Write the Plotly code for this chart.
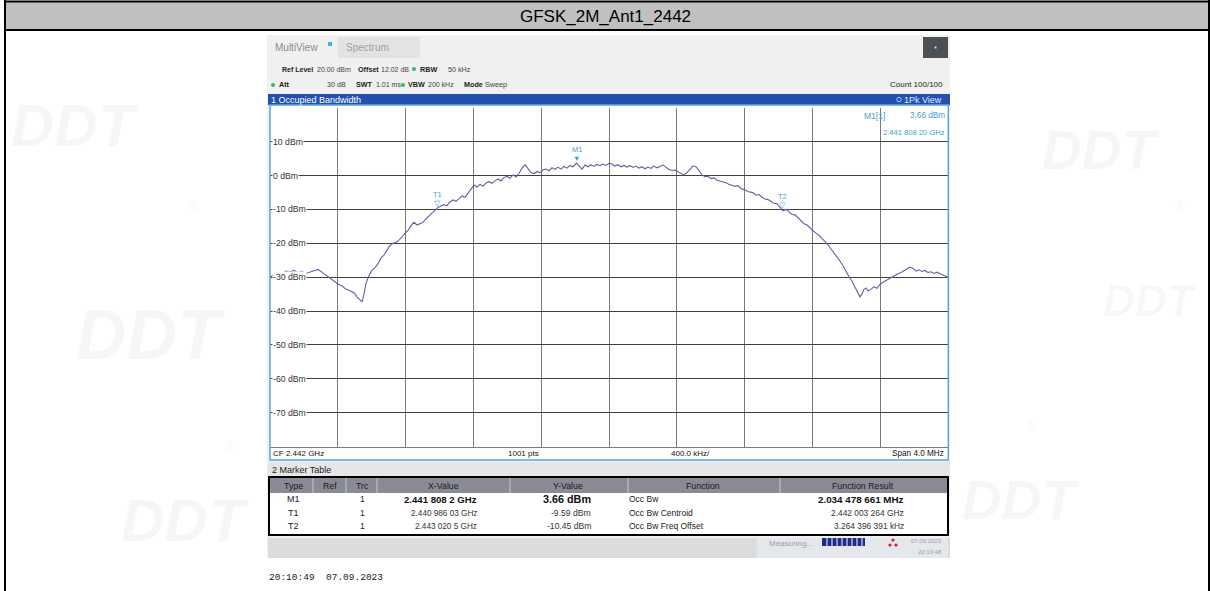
import plotly.graph_objects as go

W, H = 1210, 591

# ---------------- data ----------------
title_text = "GFSK_2M_Ant1_2442"
start_ghz = 2.440
stop_ghz = 2.444
ref_level = 20
bottom_level = -80

trace_offset_khz = [
    0, 24, 47, 71, 94, 118, 142, 165, 189, 212, 236, 259, 283, 307, 330, 354, 377, 401, 425, 448,
    472, 495, 513, 531, 543, 554, 566, 584, 601, 619, 637, 655, 672, 690, 708, 725, 743, 761, 778, 796,
    814, 831, 849, 867, 885, 902, 920, 938, 955, 973, 991, 1008, 1026, 1044, 1061, 1079, 1097, 1115, 1132, 1150,
    1168, 1185, 1203, 1221, 1238, 1256, 1274, 1291, 1309, 1327, 1345, 1362, 1380, 1398, 1415, 1433, 1451, 1468, 1486, 1504,
    1521, 1539, 1557, 1575, 1592, 1610, 1628, 1645, 1663, 1681, 1698, 1716, 1734, 1751, 1769, 1787, 1808, 1822, 1840, 1858,
    1875, 1893, 1911, 1928, 1946, 1964, 1981, 1999, 2017, 2034, 2052, 2070, 2088, 2105, 2123, 2141, 2158, 2176, 2194, 2211,
    2229, 2247, 2264, 2282, 2300, 2318, 2335, 2353, 2371, 2388, 2406, 2424, 2441, 2459, 2477, 2494, 2512, 2530, 2548, 2565,
    2583, 2601, 2618, 2636, 2654, 2671, 2689, 2707, 2724, 2742, 2760, 2777, 2795, 2813, 2831, 2848, 2866, 2884, 2901, 2919,
    2937, 2954, 2972, 2990, 3007, 3025, 3043, 3061, 3078, 3096, 3114, 3131, 3149, 3167, 3184, 3202, 3220, 3237, 3255, 3273,
    3291, 3308, 3326, 3344, 3361, 3379, 3397, 3414, 3432, 3450, 3467, 3479, 3491, 3503, 3515, 3526, 3544, 3562, 3580, 3597,
    3615, 3633, 3650, 3668, 3686, 3703, 3721, 3739, 3756, 3774, 3792, 3810, 3827, 3845, 3862, 3880, 3898, 3916, 3933, 3951,
    3969, 3986, 4000,
]
trace_level_dbm = [
    -30.0, -29.2, -28.6, -28.9, -28.2, -28.5, -28.0, -28.7, -28.3, -28.9, -28.4, -28.1, -27.7, -28.6, -29.2, -30.1, -31.0, -32.0, -32.6, -33.5,
    -34.0, -34.6, -35.8, -36.6, -37.3, -35.0, -31.8, -29.5, -28.0, -27.2, -26.0, -24.3, -23.5, -22.0, -20.6, -20.0, -19.8, -19.0, -18.2, -17.0,
    -16.2, -14.8, -13.8, -14.6, -14.2, -13.8, -12.8, -12.0, -11.3, -10.4, -9.4, -9.0, -8.6, -8.9, -7.8, -7.2, -7.6, -6.8, -6.0, -6.4,
    -5.2, -3.8, -2.8, -3.4, -2.6, -3.1, -2.2, -1.8, -2.3, -1.5, -1.0, -1.6, -0.6, -0.2, -0.8, 0.2, -0.4, 0.6, 2.2, 3.2,
    2.0, 0.9, 0.6, 1.2, 0.8, 1.7, 1.9, 1.4, 2.3, 1.8, 2.5, 1.9, 2.7, 2.2, 3.0, 2.6, 3.66, 2.8, 1.9, 3.1,
    2.6, 3.2, 2.7, 3.3, 2.9, 3.4, 3.0, 3.6, 3.4, 2.8, 3.2, 2.6, 3.0, 2.5, 2.9, 2.4, 2.8, 2.2, 2.6, 2.0,
    2.5, 2.1, 2.8, 2.3, 2.7, 3.1, 2.5, 1.8, 1.5, 1.6, 1.1, 0.6, 0.2, 0.9, 1.9, 2.8, 2.6, 1.2, 0.2, -0.3,
    -0.2, -0.9, -0.7, -1.4, -1.6, -1.9, -2.1, -2.6, -2.8, -3.2, -3.0, -3.8, -4.2, -4.6, -4.9, -5.0, -5.8, -5.6, -6.4, -6.9,
    -7.1, -7.6, -8.2, -8.3, -9.4, -10.4, -10.0, -10.8, -11.4, -11.6, -12.5, -13.4, -14.2, -14.6, -15.5, -16.3, -17.0, -17.6, -18.6, -19.4,
    -20.5, -21.6, -22.8, -24.0, -25.2, -26.6, -28.4, -29.8, -31.2, -33.0, -34.5, -35.8, -35.0, -33.6, -33.2, -34.0, -33.6, -32.8, -33.3, -32.1,
    -31.5, -31.0, -30.4, -29.8, -29.5, -29.0, -28.6, -28.2, -27.6, -27.0, -27.4, -28.2, -27.8, -28.3, -28.0, -28.6, -28.4, -28.9, -28.5, -29.0,
    -29.3, -29.6, -30.0,
]

marker_names = ["M1", "T1", "T2"]
marker_freq_ghz = [2.4418082, 2.44098603, 2.4430205]
marker_level_dbm = [3.66, -9.59, -10.45]
marker_symbols = ["▼", "▽", "▽"]

y_tick_vals = [10, 0, -10, -20, -30, -40, -50, -60, -70]
y_tick_text = ["10 dBm", "0 dBm", "-10 dBm", "-20 dBm", "-30 dBm", "-40 dBm", "-50 dBm", "-60 dBm", "-70 dBm"]

table_cols = ["Type", "Ref", "Trc", "X-Value", "Y-Value", "Function", "Function Result"]
table_type = ["M1", "T1", "T2"]
table_trc = ["1", "1", "1"]
table_x = ["2.441 808 2 GHz", "2.440 986 03 GHz", "2.443 020 5 GHz"]
table_y = ["3.66 dBm", "-9.59 dBm", "-10.45 dBm"]
table_func = ["Occ Bw", "Occ Bw Centroid", "Occ Bw Freq Offset"]
table_result = ["2.034 478 661 MHz", "2.442 003 264 GHz", "3.264 396 391 kHz"]

# ---------------- helpers ----------------
FN = "Liberation Sans, Arial, sans-serif"
shapes, anns = [], []


def R(x0, y0, x1, y1, fill=None, line=None, lw=1, layer="below"):
    shapes.append(dict(type="rect", xref="paper", yref="paper",
                       x0=x0 / W, x1=x1 / W, y0=1 - y1 / H, y1=1 - y0 / H,
                       fillcolor=fill if fill else "rgba(0,0,0,0)",
                       line=dict(color=line if line else "rgba(0,0,0,0)", width=lw if line else 0),
                       layer=layer))


def L(x0, y0, x1, y1, color, w=1, layer="below"):
    shapes.append(dict(type="line", xref="paper", yref="paper",
                       x0=x0 / W, x1=x1 / W, y0=1 - y0 / H, y1=1 - y1 / H,
                       line=dict(color=color, width=w), layer=layer))


def C(x, y, r, fill, layer="below", line=None):
    shapes.append(dict(type="circle", xref="paper", yref="paper",
                       x0=(x - r) / W, x1=(x + r) / W, y0=1 - (y + r) / H, y1=1 - (y - r) / H,
                       fillcolor=fill, line=dict(color=line if line else fill, width=1 if line else 0),
                       layer=layer))


def T(x, y, s, size=7.5, color="#222", anchor="left", bold=False, font=FN, bg=None, style="normal"):
    anns.append(dict(x=x / W, y=1 - y / H, xref="paper", yref="paper",
                     text=("<b>%s</b>" % s) if bold else s, showarrow=False,
                     xanchor=anchor, yanchor="middle", borderpad=0,
                     font=dict(size=size, color=color, family=font, style=style),
                     bgcolor=bg))


# ---------------- watermarks (faint logos) ----------------
WM = "rgba(0,0,0,0.035)"
for (wx, wy, ws) in [(75, 125, 60), (150, 335, 70), (185, 520, 60), (1100, 150, 55), (1150, 300, 44), (1020, 500, 55)]:
    T(wx, wy, "DDT", size=ws, color=WM, anchor="center", bold=True, font="Liberation Sans", style="italic")
for (rx, ry) in [(195, 205), (230, 446), (1180, 205), (1032, 425)]:
    T(rx, ry, "®", size=13, color="rgba(0,0,0,0.07)", anchor="center", font="Liberation Sans")

# ---------------- title bar / frame ----------------
R(5, 1.5, 1209, 30, fill="#c0c0c0")
L(4, 1.5, 1210, 1.5, "black", 2)
L(4, 30, 1210, 30, "black", 2)
L(5, 0, 5, 591, "black", 2)
L(1209, 0, 1209, 591, "black", 2)
T(605, 16, title_text, size=17, color="black", anchor="center", font="Liberation Sans, Arial")

# ---------------- instrument panel ----------------
R(267, 35, 950, 558, fill="#f0f0f0")
T(274, 47, "MultiView", size=10, color="#8c8c8c")
R(328, 42, 332, 46, fill="#3ab4e8")
R(338, 37, 420, 58, fill="#e3e3e3")
T(345, 47, "Spectrum", size=10, color="#a0a0a0")
R(923, 37, 948, 58, fill="#4a5056")
R(934.5, 46.5, 936.5, 48.5, fill="#d0d0d0")

GREEN = "#3cb371"
VAL = "#444"
T(281, 69, "Ref Level", size=7, bold=True)
T(316, 69, "20.00 dBm", size=7, color=VAL)
T(357, 69, "Offset", size=7.2, bold=True)
T(380, 69, "12.02 dB", size=7, color=VAL)
C(414, 69, 2, GREEN)
T(419, 69, "RBW", size=7.2, bold=True)
T(447, 69, "50 kHz", size=7.2, color=VAL)

C(273, 85, 2, GREEN)
T(278, 85, "Att", size=7.2, bold=True)
T(347, 85, "30 dB", size=7.2, color=VAL, anchor="right")
T(355, 85, "SWT", size=7.2, bold=True)
T(375, 85, "1.01 ms", size=7, color=VAL)
C(403, 85, 2, GREEN)
T(407, 85, "VBW", size=7.2, bold=True)
T(427, 85, "200 kHz", size=7, color=VAL)
T(463, 85, "Mode", size=7.2, bold=True)
T(484, 85, "Sweep", size=7.2, color=VAL)
T(944, 85, "Count 100/100", size=8, anchor="right", color="#222")

R(268, 94, 950, 105, fill="#2150b0")
T(270, 99.5, "1 Occupied Bandwidth", size=9, color="white")
C(899, 99.5, 2.2, "#2150b0", line="#a8c8ff")
T(943, 99.5, "1Pk View", size=9, color="#e0ebff", anchor="right")

# plot area background + CF bar
R(270, 105, 948.3, 460, fill="white")
R(270, 105, 948.3, 460, line="#5aa6dc", lw=1.5, layer="above")
T(272, 453, "CF 2.442 GHz", size=8, color="#111")
T(523, 453, "1001 pts", size=8, color="#111", anchor="center")
T(690, 453, "400.0 kHz/", size=8, color="#111", anchor="center")
T(945, 453, "Span 4.0 MHz", size=8.2, color="#111", anchor="right")

# marker readout in plot
CY = "#3a9fd0"
T(863, 116, "M1[1]", size=8.5, color=CY)
T(946, 116, "%.2f dBm" % marker_level_dbm[0], size=8.2, color=CY, anchor="right")
T(946, 132, "2.441 808 20 GHz", size=7.6, color=CY, anchor="right")

# ---------------- marker table ----------------
R(268, 462, 950, 477, fill="#e6e6e6")
T(271, 470, "2 Marker Table", size=9, color="#222")
R(269, 477, 948, 535, fill="white", line="black", lw=2)
R(270, 478, 947, 493, fill="#8a8a96")
for sx in [313, 346, 377, 510, 628, 780]:
    L(sx, 478, sx, 493, "#c4c4cc", 1)
col_cx = [293, 330, 362, 443, 568, 703, 863]
for cx, name in zip(col_cx, table_cols):
    T(cx, 486, name, size=8.8, color="#1a1a1a", anchor="center")
row_y = [499, 513, 526]
for i, ry in enumerate(row_y):
    big = (i == 0)
    T(293, ry, table_type[i], size=9, color="#222", anchor="center")
    T(362, ry, table_trc[i], size=8.5, color="#222", anchor="center")
    T(478, ry, table_x[i], size=9.6 if big else 8.2, color="#111" if big else "#333", anchor="right", bold=big)
    T(592, ry, table_y[i], size=10.8 if big else 8.6, color="#111" if big else "#333", anchor="right", bold=big)
    T(628, ry, table_func[i], size=8.5, color="#222")
    T(905, ry, table_result[i], size=9.8 if big else 8.4, color="#111" if big else "#333", anchor="right", bold=big)

# ---------------- status bar ----------------
R(268, 538, 950, 558, fill="#dcdcdc")
R(757, 538, 948, 558, fill="#e4e7eb")
T(768, 543, "Measuring...", size=8, color="#9aa0a8")
R(822, 538, 865, 546, fill="#1c2a8c")
for px in range(827, 865, 5):
    L(px, 538, px, 546, "white", 1)
for (ix, iy) in [(890, 545), (896, 545), (893, 540)]:
    C(ix, iy, 1.6, "#d0202a")
T(943, 540.5, "07.09.2023", size=6, color="#a0a0a8", anchor="right")
T(943, 551.5, "20:10:48", size=6, color="#a0a0a8", anchor="right")

T(268, 577, "20:10:49\u00a0\u00a007.09.2023", size=9.5, color="#222", font="Liberation Mono, DejaVu Sans Mono, monospace")

# ---------------- trace & markers ----------------
fig = go.Figure()
fig.add_trace(go.Scatter(
    x=[start_ghz + k / 1e6 for k in trace_offset_khz],
    y=trace_level_dbm,
    mode="lines",
    line=dict(color="#5d60a8", width=1.1),
    hoverinfo="skip",
))

for name, fx, lv, sym in zip(marker_names, marker_freq_ghz, marker_level_dbm, marker_symbols):
    anns.append(dict(x=fx, y=lv, xref="x", yref="y", text=sym, showarrow=False,
                     yanchor="middle", xanchor="center", yshift=5,
                     font=dict(size=7.5, color=CY, family=FN)))
    anns.append(dict(x=fx, y=lv, xref="x", yref="y", text=name, showarrow=False,
                     yanchor="middle", xanchor="center", yshift=14,
                     font=dict(size=7.5, color=CY, family=FN)))

for v, t in zip(y_tick_vals, y_tick_text):
    anns.append(dict(x=272 / W, y=v, xref="paper", yref="y", text=t, showarrow=False,
                     xanchor="left", yanchor="middle", bgcolor="white", borderpad=0,
                     font=dict(size=8.7, color="#333", family=FN)))

fig.update_layout(
    width=W, height=H,
    margin=dict(l=0, r=0, t=0, b=0),
    paper_bgcolor="white",
    plot_bgcolor="white",
    showlegend=False,
    shapes=shapes,
    annotations=anns,
    xaxis=dict(domain=[270 / W, 948.3 / W], range=[start_ghz, stop_ghz], dtick=0.0004, tick0=start_ghz,
               showgrid=True, gridcolor="#7a7a7a", gridwidth=1, zeroline=False,
               showticklabels=False, ticks="", showline=True, linecolor="#7a7a7a", linewidth=1),
    yaxis=dict(domain=[1 - 446.6 / H, 1 - 107.8 / H], range=[bottom_level, ref_level], dtick=10, tick0=0,
               showgrid=True, gridcolor="#404040", gridwidth=1, zeroline=False,
               showticklabels=False, ticks=""),
)

fig.write_html("out.html", config={"displayModeBar": False, "staticPlot": True},
               post_script="document.body.style.margin='0px';document.body.style.overflow='hidden';")
